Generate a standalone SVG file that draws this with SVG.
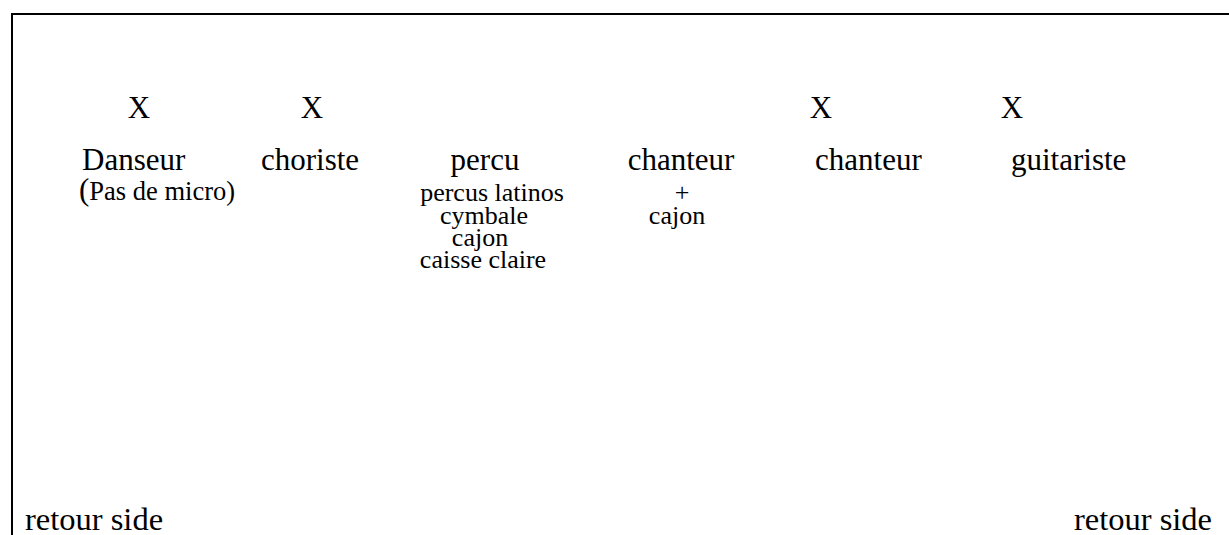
<svg xmlns="http://www.w3.org/2000/svg" width="1229" height="535" viewBox="0 0 1229 535">
<style>
text{font-family:"Liberation Serif","Times New Roman",serif;fill:#000}
.x{font-size:31px;text-anchor:middle}
.m{font-size:31px}
.c{font-size:31px;text-anchor:middle}
.s{font-size:26px;text-anchor:middle}
.r{font-size:32.5px}
</style>
<rect width="1229" height="535" fill="#fff"/>
<g id="frame"><path d="M12 535V14H1229" fill="none" stroke="#000" stroke-width="2"/></g>
<g id="danseur"><text class="x" x="139" y="118">X</text><text class="m" x="82" y="170">Danseur</text><text x="79" y="200"><tspan font-size="31">(</tspan><tspan font-size="26.5">Pas de micro)</tspan></text></g>
<g id="choriste"><text class="x" x="312" y="118">X</text><text class="m" x="261" y="170">choriste</text></g>
<g id="percu"><text class="c" x="485" y="170">percu</text><text class="s" x="492" y="201">percus latinos</text><text class="s" x="484" y="223.5">cymbale</text><text class="s" x="480" y="246">cajon</text><text class="s" x="483" y="268">caisse claire</text></g>
<g id="chanteur1"><text class="c" x="681" y="170">chanteur</text><text class="s" x="682" y="201">+</text><text class="s" x="677" y="223.5">cajon</text></g>
<g id="chanteur2"><text class="x" x="821" y="118">X</text><text class="m" x="815" y="170">chanteur</text></g>
<g id="guitariste"><text class="x" x="1012" y="118">X</text><text class="m" x="1011" y="170">guitariste</text></g>
<g id="retour-left"><text class="r" x="25" y="530">retour side</text></g>
<g id="retour-right"><text class="r" x="1212" y="530" text-anchor="end">retour side</text></g>
<g id="connectors"/>
</svg>
